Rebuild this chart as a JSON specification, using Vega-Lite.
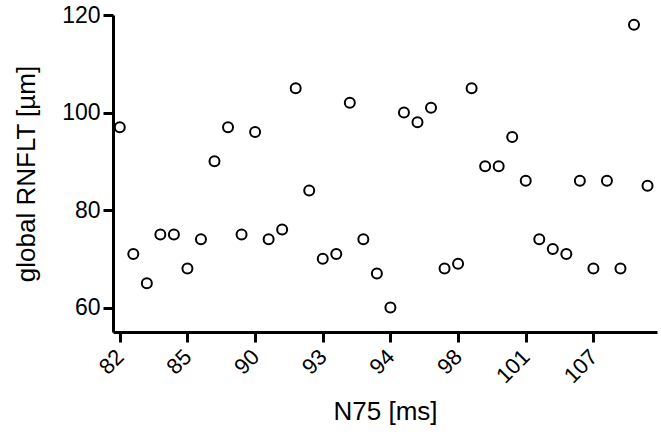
{
  "$schema": "https://vega.github.io/schema/vega-lite/v6.json",
  "autosize": {"type": "none"},
  "width": 544,
  "height": 317,
  "padding": {"left": 113, "top": 15, "right": 4, "bottom": 106},
  "background": "white",
  "config": {"view": {"stroke": null}},
  "data": {
    "values": [
      {"rank": 0, "rnflt": 97}, {"rank": 1, "rnflt": 71}, {"rank": 2, "rnflt": 65}, {"rank": 3, "rnflt": 75},
      {"rank": 4, "rnflt": 75}, {"rank": 5, "rnflt": 68}, {"rank": 6, "rnflt": 74}, {"rank": 7, "rnflt": 90},
      {"rank": 8, "rnflt": 97}, {"rank": 9, "rnflt": 75}, {"rank": 10, "rnflt": 96}, {"rank": 11, "rnflt": 74},
      {"rank": 12, "rnflt": 76}, {"rank": 13, "rnflt": 105}, {"rank": 14, "rnflt": 84}, {"rank": 15, "rnflt": 70},
      {"rank": 16, "rnflt": 71}, {"rank": 17, "rnflt": 102}, {"rank": 18, "rnflt": 74}, {"rank": 19, "rnflt": 67},
      {"rank": 20, "rnflt": 60}, {"rank": 21, "rnflt": 100}, {"rank": 22, "rnflt": 98}, {"rank": 23, "rnflt": 101},
      {"rank": 24, "rnflt": 68}, {"rank": 25, "rnflt": 69}, {"rank": 26, "rnflt": 105}, {"rank": 27, "rnflt": 89},
      {"rank": 28, "rnflt": 89}, {"rank": 29, "rnflt": 95}, {"rank": 30, "rnflt": 86}, {"rank": 31, "rnflt": 74},
      {"rank": 32, "rnflt": 72}, {"rank": 33, "rnflt": 71}, {"rank": 34, "rnflt": 86}, {"rank": 35, "rnflt": 68},
      {"rank": 36, "rnflt": 86}, {"rank": 37, "rnflt": 68}, {"rank": 38, "rnflt": 118}, {"rank": 39, "rnflt": 85}
    ]
  },
  "mark": {"type": "point", "shape": "circle", "filled": false, "stroke": "black", "strokeWidth": 2, "size": 100, "opacity": 1},
  "encoding": {
    "x": {
      "field": "rank",
      "type": "quantitative",
      "scale": {"domain": [-0.5, 39.7], "nice": false, "zero": false},
      "axis": {
        "title": "N75 [ms]",
        "values": [0, 5, 10, 15, 20, 25, 30, 35],
        "labelExpr": "({'0':'82','5':'85','10':'90','15':'93','20':'94','25':'98','30':'101','35':'107'})[datum.value + '']",
        "labelAngle": -45,
        "labelAlign": "right",
        "labelBaseline": "middle",
        "labelPadding": 11,
        "titlePadding": 12,
        "grid": false,
        "domainColor": "black",
        "domainWidth": 3,
        "tickColor": "black",
        "tickWidth": 3,
        "tickSize": 10,
        "labelColor": "black",
        "titleColor": "black",
        "labelFont": "Liberation Sans",
        "titleFont": "Liberation Sans",
        "labelFontSize": 22,
        "titleFontSize": 26,
        "titleFontWeight": "normal"
      }
    },
    "y": {
      "field": "rnflt",
      "type": "quantitative",
      "scale": {"domain": [55, 120], "nice": false, "zero": false},
      "axis": {
        "title": "global RNFLT [µm]",
        "values": [60, 80, 100, 120],
        "labelPadding": 3,
        "titlePadding": 22,
        "grid": false,
        "domainColor": "black",
        "domainWidth": 3,
        "tickColor": "black",
        "tickWidth": 3,
        "tickSize": 10,
        "labelColor": "black",
        "titleColor": "black",
        "labelFont": "Liberation Sans",
        "titleFont": "Liberation Sans",
        "labelFontSize": 23,
        "titleFontSize": 26,
        "titleFontWeight": "normal"
      }
    }
  }
}
